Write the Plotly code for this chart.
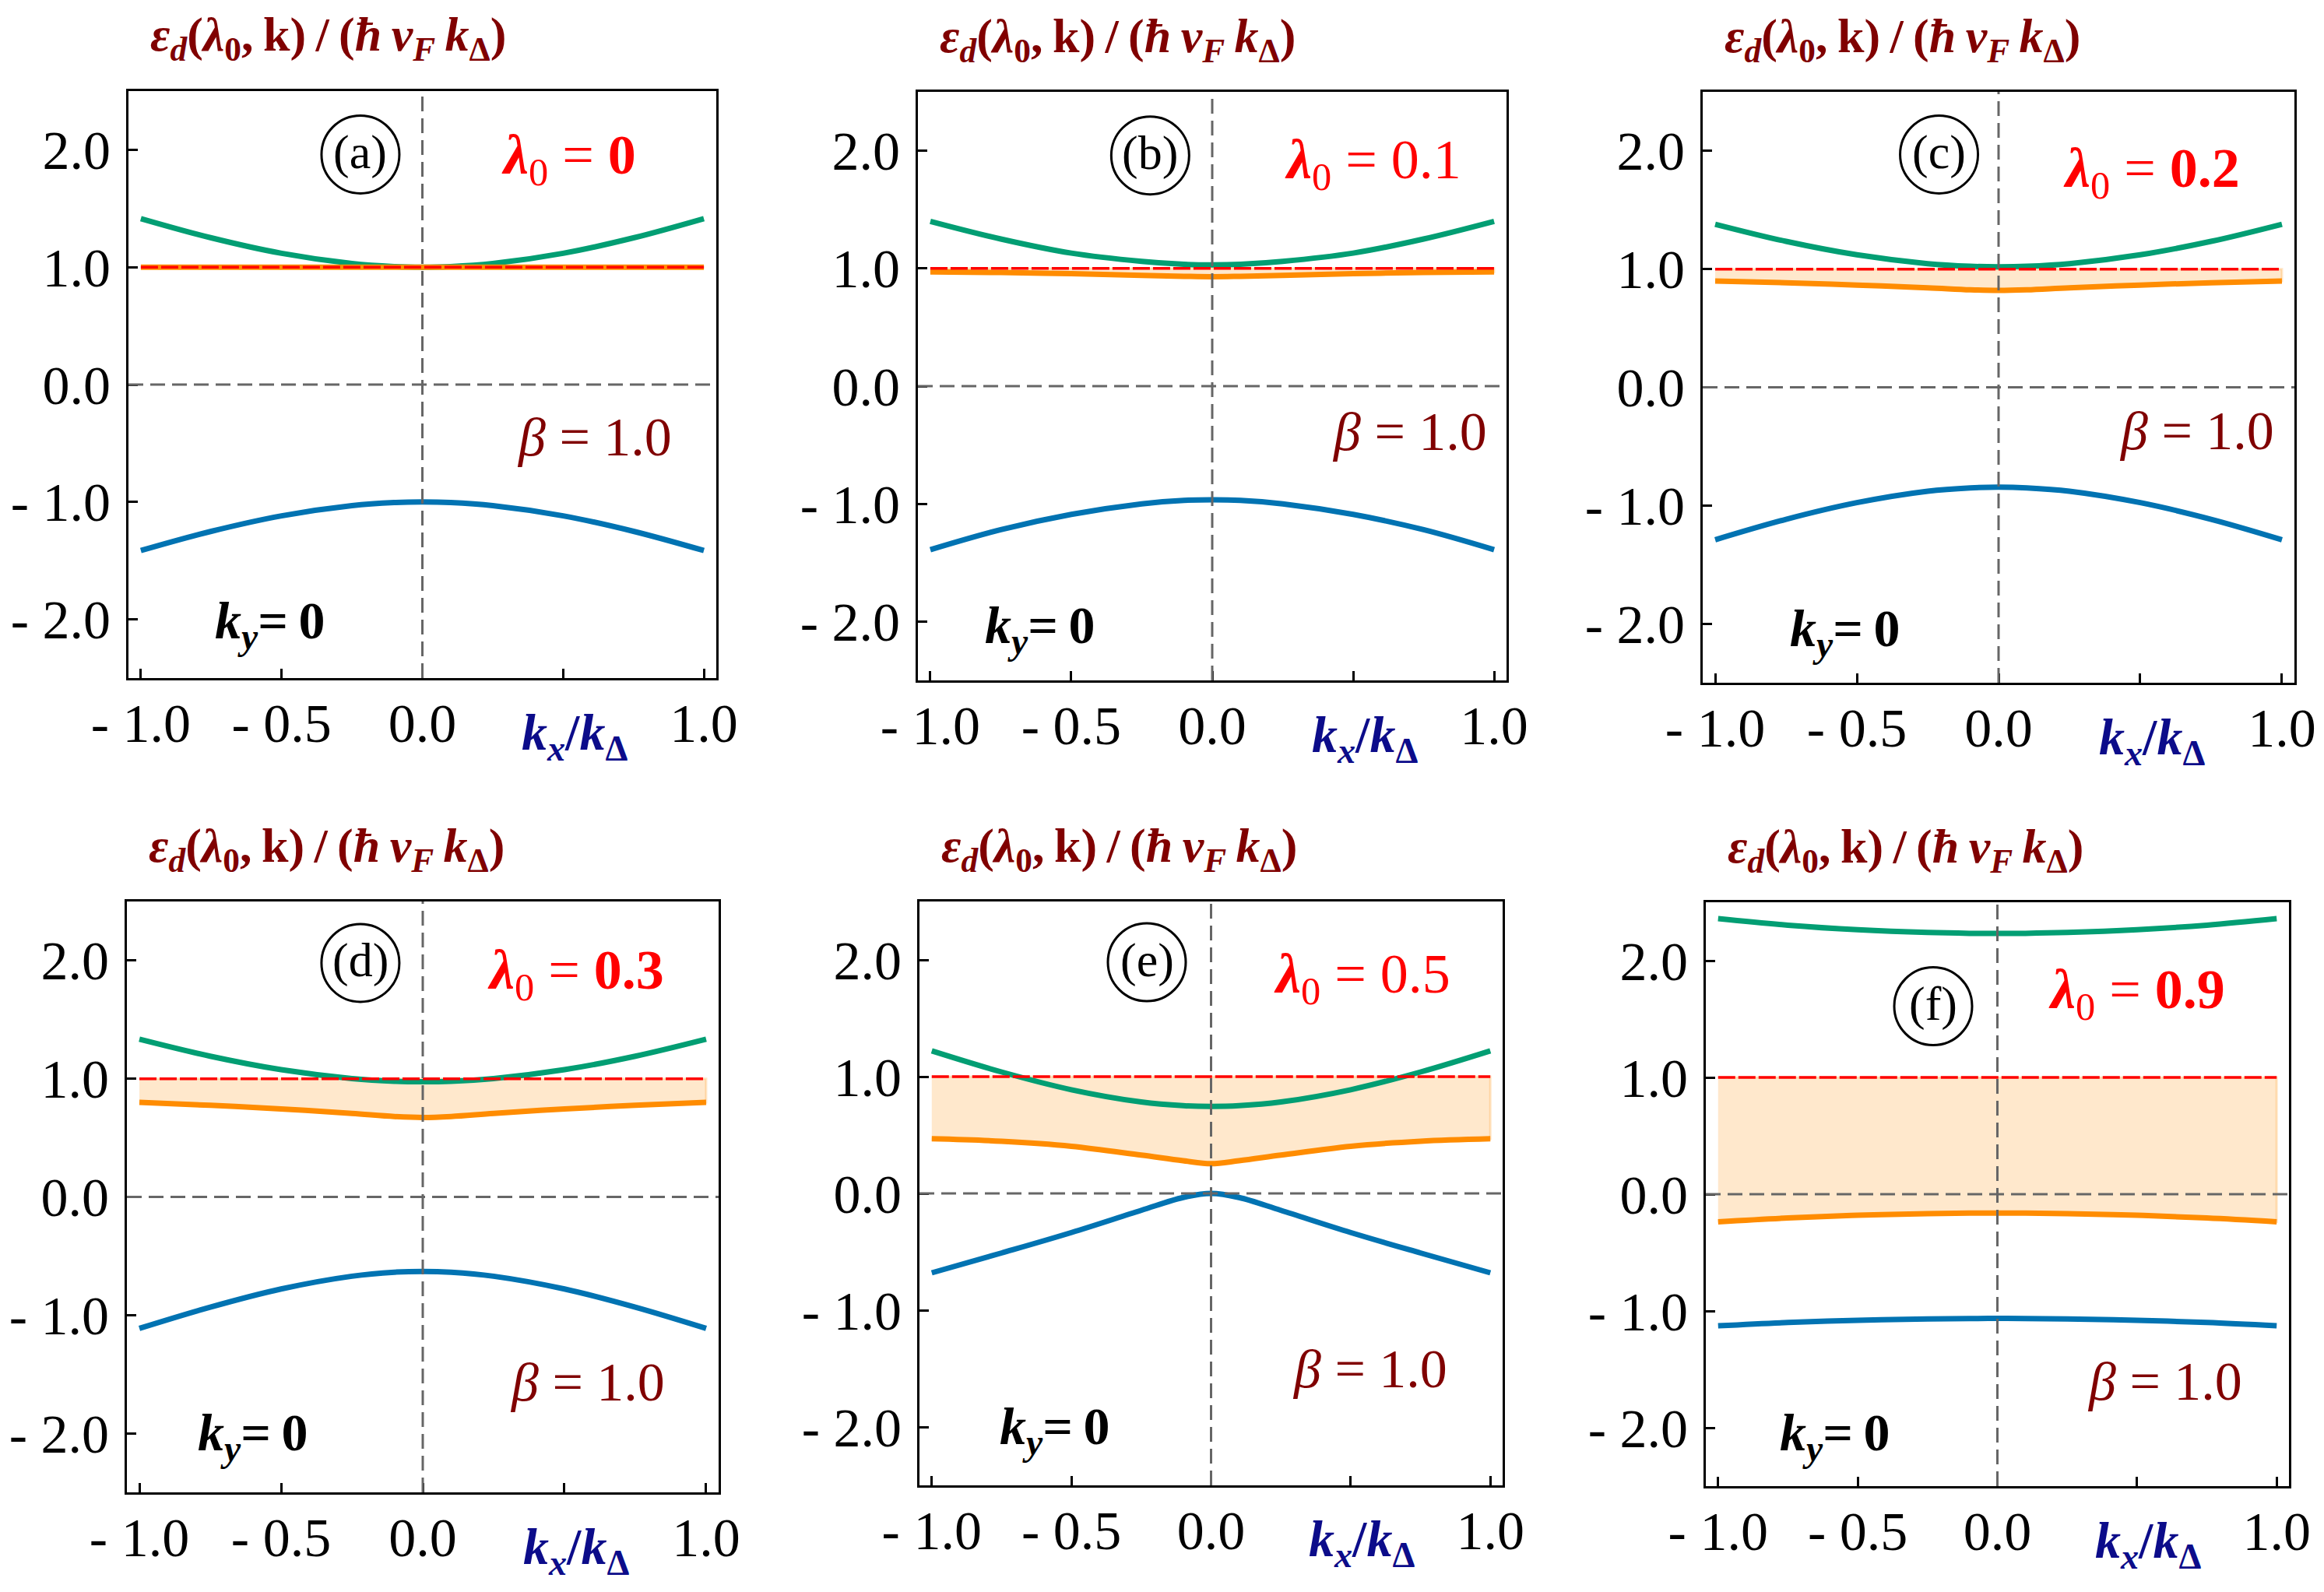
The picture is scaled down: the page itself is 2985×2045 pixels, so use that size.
import plotly.graph_objects as go

# k_x / k_Delta sample points (k_y = 0)
kx = [-1.0, -0.75, -0.5, -0.25, -0.1, 0.0, 0.1, 0.25, 0.5, 0.75, 1.0]

# (a) lambda0 = 0
green_a = [1.414, 1.25, 1.118, 1.031, 1.005, 1.0, 1.005, 1.031, 1.118, 1.25, 1.414]
orange_a = [1.0, 1.0, 1.0, 1.0, 1.0, 1.0, 1.0, 1.0, 1.0, 1.0, 1.0]
blue_a = [-1.414, -1.25, -1.118, -1.031, -1.005, -1.0, -1.005, -1.031, -1.118, -1.25, -1.414]

# (b) lambda0 = 0.1
green_b = [1.40, 1.25, 1.13, 1.06, 1.035, 1.03, 1.035, 1.06, 1.13, 1.25, 1.40]
orange_b = [0.97, 0.965, 0.955, 0.94, 0.933, 0.93, 0.933, 0.94, 0.955, 0.965, 0.97]
blue_b = [-1.39, -1.22, -1.09, -1.00, -0.97, -0.965, -0.97, -1.00, -1.09, -1.22, -1.39]

# (c) lambda0 = 0.2
green_c = [1.38, 1.235, 1.121, 1.046, 1.024, 1.02, 1.024, 1.046, 1.121, 1.235, 1.38]
orange_c = [0.90, 0.885, 0.865, 0.842, 0.825, 0.82, 0.825, 0.842, 0.865, 0.885, 0.90]
blue_c = [-1.29, -1.117, -0.976, -0.879, -0.851, -0.845, -0.851, -0.879, -0.976, -1.117, -1.29]

# (d) lambda0 = 0.3
green_d = [1.335, 1.191, 1.077, 1.002, 0.979, 0.975, 0.979, 1.002, 1.077, 1.191, 1.335]
orange_d = [0.80, 0.775, 0.745, 0.706, 0.68, 0.672, 0.68, 0.706, 0.745, 0.775, 0.80]
blue_d = [-1.113, -0.933, -0.779, -0.671, -0.637, -0.63, -0.637, -0.671, -0.779, -0.933, -1.113]

# (e) lambda0 = 0.5
green_e = [1.221, 1.04, 0.888, 0.783, 0.751, 0.745, 0.751, 0.783, 0.888, 1.04, 1.221]
orange_e = [0.468, 0.447, 0.404, 0.328, 0.28, 0.255, 0.28, 0.328, 0.404, 0.447, 0.468]
blue_e = [-0.68, -0.51, -0.335, -0.145, -0.035, 0.0, -0.035, -0.145, -0.335, -0.51, -0.68]

# (f) lambda0 = 0.9
green_f = [2.36, 2.304, 2.265, 2.241, 2.234, 2.233, 2.234, 2.241, 2.265, 2.304, 2.36]
orange_f = [-0.237, -0.204, -0.18, -0.166, -0.162, -0.161, -0.162, -0.166, -0.18, -0.204, -0.237]
blue_f = [-1.127, -1.099, -1.080, -1.068, -1.065, -1.064, -1.065, -1.068, -1.080, -1.099, -1.127]

lambda0 = ["0", "0.1", "0.2", "0.3", "0.5", "0.9"]
panel_tags = ["(a)", "(b)", "(c)", "(d)", "(e)", "(f)"]
beta = "1.0"
gap_edge = 1.0

x_tick_vals = [-1.0, -0.5, 0.0, 0.5, 1.0]
x_tick_text = ["- 1.0", "- 0.5", "0.0", "", "1.0"]
y_tick_vals = [-2, -1, 0, 1, 2]
y_tick_text = ["- 2.0", "- 1.0", "0.0", "1.0", "2.0"]

greens = [green_a, green_b, green_c, green_d, green_e, green_f]
oranges = [orange_a, orange_b, orange_c, orange_d, orange_e, orange_f]
blues = [blue_a, blue_b, blue_c, blue_d, blue_e, blue_f]

# layout helpers (pixel boxes of each panel: left, right, top, bottom)
W, H = 2985, 2045
OFF = 8  # page body margin
boxes = [(165, 920, 117, 871), (1179, 1935, 118, 874), (2187, 2947, 118, 877),
         (163, 923, 1158, 1917), (1181, 1930, 1158, 1908), (2191, 2940, 1159, 1909)]
tag_pos = [(-0.22, 1.96), (-0.22, 1.96), (-0.21, 1.97), (-0.22, 1.98), (-0.23, 1.98), (-0.23, 1.61)]
lam_pos = [(0.52, 1.92), (0.57, 1.89), (0.54, 1.82), (0.54, 1.89), (0.54, 1.85), (0.50, 1.72)]
lam_bold = [True, False, True, True, False, True]
beta_pos = [(0.61, -0.45), (0.70, -0.385), (0.70, -0.37), (0.58, -1.57), (0.57, -1.50), (0.60, -1.60)]
ky_pos = [(-0.54, -2.04), (-0.61, -2.06), (-0.54, -2.07), (-0.60, -2.02), (-0.56, -2.02), (-0.58, -2.07)]

FONT = "Liberation Serif"
GREEN, ORANGE, BLUE = "#029e73", "#ff8c00", "#0173b2"
DARKRED, NAVY = "#800000", "#0c0c8a"
TS = "\u2009"
EQ = " = "

title_text = ("<b><i>ε</i></b><sub><b><i>d</i></b></sub><b>(<i>λ</i></b><sub><b>0</b></sub><b>," + TS + "k)" + TS
              + "/" + TS + "(<i>ħ" + TS + "v</i></b><sub><b><i>F</i></b></sub><b><i>" + TS + "k</i></b>"
              "<sub><b>Δ</b></sub><b>)</b>")

fig = go.Figure()

for i in range(6):
    s = "" if i == 0 else str(i + 1)
    xa, ya = "x" + s, "y" + s
    green, orange, blue = greens[i], oranges[i], blues[i]

    if float(lambda0[i]) > 0:
        fig.add_trace(go.Scatter(
            x=kx + kx[::-1], y=[gap_edge] * len(kx) + orange[::-1],
            fill="toself", fillcolor="rgba(255,140,0,0.2)",
            line=dict(color="rgba(255,140,0,0.22)", width=3),
            mode="lines", xaxis=xa, yaxis=ya, showlegend=False, hoverinfo="skip"))

    for ys, col in [(green, GREEN), (orange, ORANGE), (blue, BLUE)]:
        fig.add_trace(go.Scatter(x=kx, y=ys, mode="lines", line=dict(color=col, width=7, shape="spline"),
                                 xaxis=xa, yaxis=ya, showlegend=False))
    fig.add_trace(go.Scatter(x=[kx[0], kx[-1]], y=[gap_edge, gap_edge], mode="lines",
                             line=dict(color="#ff0000", width=3.5, dash="22px,4px"),
                             xaxis=xa, yaxis=ya, showlegend=False))

    l, r, t, b = boxes[i]
    axis_common = dict(showgrid=False, zeroline=False, showline=True, linecolor="black", linewidth=3,
                       mirror=True, ticks="inside", ticklen=12, tickwidth=2.5, tickcolor="black",
                       automargin=False,
                       tickfont=dict(family=FONT, size=70, color="black"), tickmode="array")
    fig.layout["xaxis" + s] = dict(domain=[(l - OFF) / W, (r - OFF) / W], range=[-1.044, 1.044], anchor=ya,
                                   tickvals=x_tick_vals, ticktext=x_tick_text, ticklabelstandoff=-5,
                                   **axis_common)
    fig.layout["yaxis" + s] = dict(domain=[1 - (b - OFF) / H, 1 - (t - OFF) / H], range=[-2.5, 2.5], anchor=xa,
                                   tickvals=y_tick_vals, ticktext=y_tick_text, ticklabelstandoff=6,
                                   **axis_common)

    # dashed reference axes
    for ln in [dict(x0=0, x1=0, y0=0, y1=1, xref=xa, yref=ya + " domain"),
               dict(x0=0, x1=1, y0=0, y1=0, xref=xa + " domain", yref=ya)]:
        fig.add_shape(type="line", line=dict(color="#666666", width=3, dash="19px,9px"), **ln)

    # circled panel tag
    tx, ty = tag_pos[i]
    fig.add_shape(type="circle", xref=xa, yref=ya, xsizemode="pixel", ysizemode="pixel",
                  xanchor=tx, yanchor=ty, x0=-50, x1=50, y0=-50, y1=50,
                  line=dict(color="black", width=3))
    fig.add_annotation(x=tx, y=ty, xref=xa, yref=ya, text=panel_tags[i], showarrow=False,
                       font=dict(family=FONT, size=62, color="black"), yshift=3)

    lam_val = "<b>%s</b>" % lambda0[i] if lam_bold[i] else lambda0[i]
    fig.add_annotation(x=lam_pos[i][0], y=lam_pos[i][1], xref=xa, yref=ya, showarrow=False,
                       text="<b><i>λ</i></b><sub>0</sub>" + EQ + lam_val,
                       font=dict(family=FONT, size=72, color="#ff0000"))
    fig.add_annotation(x=beta_pos[i][0], y=beta_pos[i][1], xref=xa, yref=ya, showarrow=False,
                       text="<i>β</i>" + EQ + beta,
                       font=dict(family=FONT, size=70, color=DARKRED))
    fig.add_annotation(x=ky_pos[i][0], y=ky_pos[i][1], xref=xa, yref=ya, showarrow=False,
                       text="<b><i>k</i></b><sub><b><i>y</i></b></sub><b>=" + TS + "0</b>",
                       font=dict(family=FONT, size=68, color="black"))
    fig.add_annotation(x=0.54, y=0, xref=xa, yref=ya + " domain", yanchor="middle", yshift=-74,
                       showarrow=False,
                       text="<b><i>k</i></b><sub><b><i>x</i></b></sub><b>/</b><b><i>k</i></b><sub><b>Δ</b></sub>",
                       font=dict(family=FONT, size=66, color=NAVY))
    fig.add_annotation(x=0, y=1, xref=xa + " domain", yref=ya + " domain", xanchor="left", yanchor="middle",
                       xshift=26, yshift=68, showarrow=False, text=title_text,
                       font=dict(family=FONT, size=62, color=DARKRED))

fig.update_layout(width=W, height=H, margin=dict(l=0, r=0, t=0, b=0),
                  paper_bgcolor="white", plot_bgcolor="white")

fig.write_html("out.html")
